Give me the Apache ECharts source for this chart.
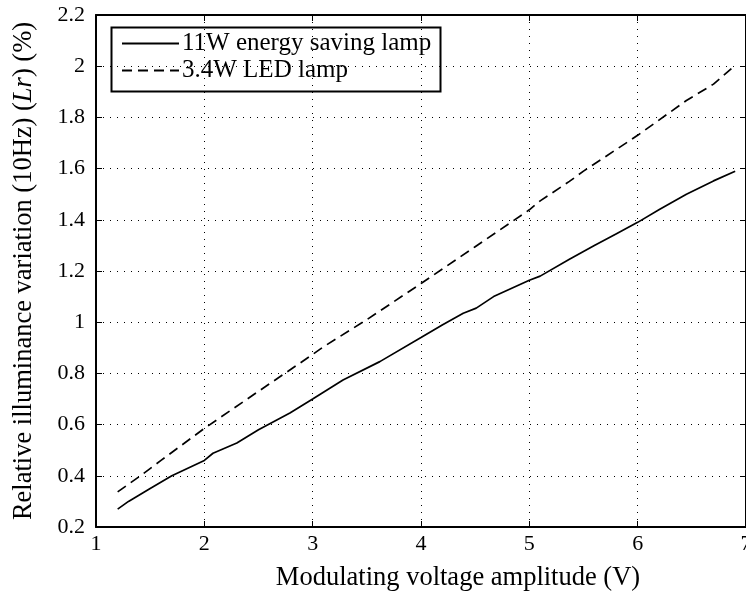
<!DOCTYPE html>
<html>
<head>
<meta charset="utf-8">
<script src="https://cdn.jsdelivr.net/npm/echarts@6/dist/echarts.min.js"></script>
<style>
  html, body { margin: 0; padding: 0; background: #fff; overflow: hidden; }
  #chart { width: 746px; height: 591px; }
</style>
</head>
<body>
<div id="chart"></div>
<script>
// Modulating voltage (V) vs. relative illuminance variation at 10 Hz (%)
const cflVoltage = [1.2, 1.3, 1.5, 1.7, 2.0, 2.08, 2.3, 2.5, 2.79, 3.0, 3.28, 3.62, 4.0, 4.2, 4.39, 4.51, 4.67, 5.0, 5.1, 5.37, 5.6, 5.8, 6.0, 6.2, 6.45, 6.7, 6.9];
const cflVariation = [0.27, 0.30, 0.35, 0.40, 0.46, 0.488, 0.528, 0.58, 0.645, 0.70, 0.774, 0.846, 0.94, 0.99, 1.035, 1.055, 1.10, 1.164, 1.18, 1.246, 1.30, 1.345, 1.39, 1.44, 1.50, 1.552, 1.59];

const ledVoltage = [1.2, 1.41, 1.6, 2.0, 2.5, 3.0, 3.1, 3.5, 4.0, 4.5, 5.0, 5.1, 5.37, 5.5, 6.0, 6.45, 6.7, 6.89];
const ledVariation = [0.337, 0.40, 0.46, 0.585, 0.73, 0.874, 0.904, 1.01, 1.151, 1.295, 1.439, 1.474, 1.55, 1.59, 1.73, 1.866, 1.93, 2.0];

const seriesNames = ['11W energy saving lamp', '3.4W LED lamp'];
const xTicks = [1, 2, 3, 4, 5, 6, 7];
const yTicks = [0.2, 0.4, 0.6, 0.8, 1, 1.2, 1.4, 1.6, 1.8, 2, 2.2];

const FONT = '"Liberation Serif", "Times New Roman", serif';
const pair = (xs, ys) => xs.map((x, i) => [x, ys[i]]);

const chart = echarts.init(document.getElementById('chart'), null, { renderer: 'canvas' });

const dotted = { color: '#000', width: 1, type: [1, 6] };
const frameAxisLine = { show: true, onZero: false, lineStyle: { color: '#000', width: 2 } };
const innerTicks = { show: true, inside: true, length: 6, lineStyle: { color: '#000', width: 1 } };

chart.setOption({
  animation: false,
  backgroundColor: '#fff',
  textStyle: { fontFamily: FONT },
  // fixed frame; the right edge of the axes box sits on the canvas edge
  grid: { left: 96, width: 650, top: 15, height: 512, containLabel: false, outerBoundsMode: 'none' },
  legend: {
    left: 121, top: 31, orient: 'vertical',
    itemWidth: 57, itemHeight: 14, itemGap: 2,
    padding: 0,
    itemStyle: { opacity: 0 },
    textStyle: { fontFamily: FONT, fontSize: 25, color: '#000', padding: [0, 0, 0, -2] },
    data: seriesNames
  },
  graphic: [{
    type: 'rect', left: 109, top: 25, z: 100,
    shape: { width: 329, height: 64 },
    style: { fill: 'none', stroke: '#000', lineWidth: 2 }
  }],
  xAxis: [{
    type: 'value', min: xTicks[0], max: xTicks[xTicks.length - 1], interval: 1,
    name: 'Modulating voltage amplitude (V)', nameLocation: 'middle', nameGap: 38,
    nameTextStyle: { fontFamily: FONT, fontSize: 26.5, color: '#000', padding: [0, 0, 0, 74] },
    axisLine: frameAxisLine, axisTick: innerTicks,
    axisLabel: { fontFamily: FONT, fontSize: 22, color: '#000', margin: 6 },
    splitLine: { show: true, lineStyle: dotted }
  }, {
    type: 'value', position: 'top', min: xTicks[0], max: xTicks[xTicks.length - 1], interval: 1,
    axisLine: frameAxisLine, axisTick: innerTicks, axisLabel: { show: false }, splitLine: { show: false }
  }],
  yAxis: [{
    type: 'value', min: yTicks[0], max: yTicks[yTicks.length - 1], interval: 0.2,
    name: '{n|Relative illuminance variation (10Hz) (}{i|Lr}{n|) (%)}',
    nameLocation: 'middle', nameGap: 58, nameRotate: 90,
    nameTextStyle: {
      fontFamily: FONT, fontSize: 26.5, color: '#000',
      rich: {
        n: { fontFamily: FONT, fontSize: 26.5, color: '#000' },
        i: { fontFamily: FONT, fontSize: 26.5, color: '#000', fontStyle: 'italic' }
      }
    },
    axisLine: frameAxisLine, axisTick: innerTicks,
    axisLabel: {
      fontFamily: FONT, fontSize: 22, color: '#000', margin: 11,
      formatter: v => String(Math.round(v * 10) / 10)
    },
    splitLine: { show: true, lineStyle: dotted }
  }, {
    type: 'value', position: 'right', min: yTicks[0], max: yTicks[yTicks.length - 1], interval: 0.2,
    axisLine: frameAxisLine, axisTick: innerTicks, axisLabel: { show: false }, splitLine: { show: false }
  }],
  series: [{
    name: seriesNames[0], type: 'line', symbol: 'none', smooth: false,
    data: pair(cflVoltage, cflVariation),
    lineStyle: { color: '#000', width: 1.7, type: 'solid' },
    itemStyle: { color: '#000' }
  }, {
    name: seriesNames[1], type: 'line', symbol: 'none', smooth: false,
    data: pair(ledVoltage, ledVariation),
    lineStyle: { color: '#000', width: 1.7, type: [10, 6] },
    itemStyle: { color: '#000' }
  }]
});
</script>
</body>
</html>
